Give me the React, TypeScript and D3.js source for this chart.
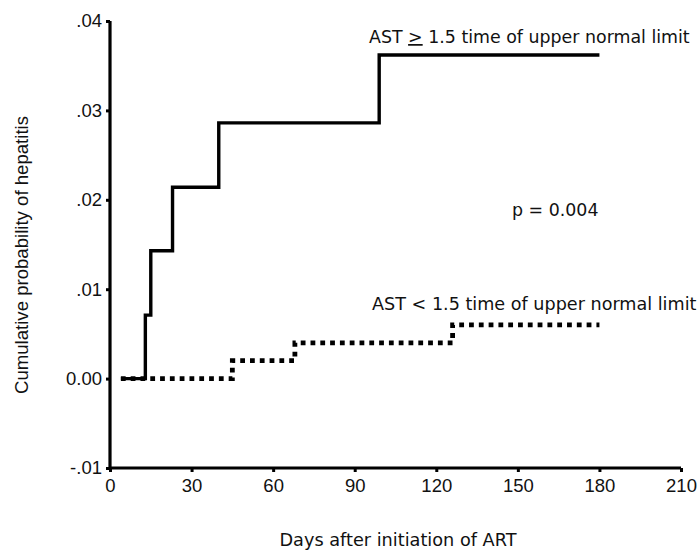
import React, { useEffect, useRef } from "react"
import * as d3 from "d3"

// days after ART start / cumulative probability
const highDays = [4, 13, 15, 23, 40, 99, 180]
const highProb = [0, 0.0071, 0.0143, 0.0214, 0.0286, 0.0362, 0.0362]
const lowDays = [4, 45, 68, 126, 180]
const lowProb = [0, 0.002, 0.004, 0.006, 0.006]

const xTicks = [0, 30, 60, 90, 120, 150, 180, 210]
const yTicks = [-0.01, 0, 0.01, 0.02, 0.03, 0.04]
const yTickLabels = ["-.01", "0.00", ".01", ".02", ".03", ".04"]

const App = () => {
  const ref = useRef<SVGSVGElement>(null)

  useEffect(() => {
    const svg = d3.select(ref.current)
    svg.selectAll("*").remove()

    const x = d3.scaleLinear().domain([0, 210]).range([110, 681])
    const y = d3.scaleLinear().domain([-0.01, 0.04]).range([468, 21])

    const axisFont = "'Liberation Sans', Arial, sans-serif"
    const labelFont = "'DejaVu Sans', Verdana, sans-serif"

    // axes
    const xAxis = svg.append("g").attr("transform", "translate(0,468)")
      .call(d3.axisBottom(x).tickValues(xTicks).tickSize(4).tickPadding(7).tickFormat(d3.format("d")))
    const yAxis = svg.append("g").attr("transform", "translate(110,0)")
      .call(d3.axisLeft(y).tickValues(yTicks).tickSize(4).tickPadding(4)
        .tickFormat((d, i) => yTickLabels[i]))
    ;[xAxis, yAxis].forEach(a => {
      a.select(".domain").attr("stroke", "#000").attr("stroke-width", 3.2)
      a.selectAll(".tick line").attr("stroke", "#000").attr("stroke-width", 3)
      a.selectAll(".tick text").attr("fill", "#111")
        .style("font-family", axisFont).style("font-size", "18.5px")
    })
    xAxis.select(".domain").attr("d", "M110,0H681")
    yAxis.select(".domain").attr("d", "M0,21V468")

    const line = d3.line<number>()
      .curve(d3.curveStepAfter)

    const highPts = highDays.map((d, i) => [x(d), y(highProb[i])] as [number, number])
    const lowPts = lowDays.map((d, i) => [x(d), y(lowProb[i])] as [number, number])

    svg.append("path")
      .attr("d", line(lowPts as any))
      .attr("fill", "none")
      .attr("stroke", "#000")
      .attr("stroke-width", 4.8)
      .attr("stroke-dasharray", "4.8,5")

    svg.append("path")
      .attr("d", line(highPts as any))
      .attr("fill", "none")
      .attr("stroke", "#000")
      .attr("stroke-width", 3.4)

    // curve labels
    const t1 = svg.append("text")
      .attr("x", 369).attr("y", 43)
      .style("font-family", labelFont).style("font-size", "17.4px").attr("fill", "#111")
    t1.append("tspan").text("AST ")
    t1.append("tspan").style("text-decoration", "underline").text(">")
    t1.append("tspan").text(" 1.5 time of upper normal limit")

    svg.append("text")
      .attr("x", 372).attr("y", 310)
      .style("font-family", labelFont).style("font-size", "17.6px").attr("fill", "#111")
      .text("AST < 1.5 time of upper normal limit")

    svg.append("text")
      .attr("x", 512).attr("y", 216)
      .style("font-family", labelFont).style("font-size", "17.4px").attr("fill", "#111")
      .text("p = 0.004")

    // axis titles
    svg.append("text")
      .attr("transform", "translate(28,255) rotate(-90)")
      .attr("text-anchor", "middle")
      .style("font-family", axisFont).style("font-size", "18.6px").attr("fill", "#111")
      .text("Cumulative probability of hepatitis")

    svg.append("text")
      .attr("x", 398).attr("y", 546)
      .attr("text-anchor", "middle")
      .style("font-family", labelFont).style("font-size", "17.7px").attr("fill", "#111")
      .text("Days after initiation of ART")
  }, [])

  return (
    <svg ref={ref} width={698} height={550}
      style={{ position: "absolute", left: 0, top: 0, background: "#fff" }} />
  )
}

export default App
